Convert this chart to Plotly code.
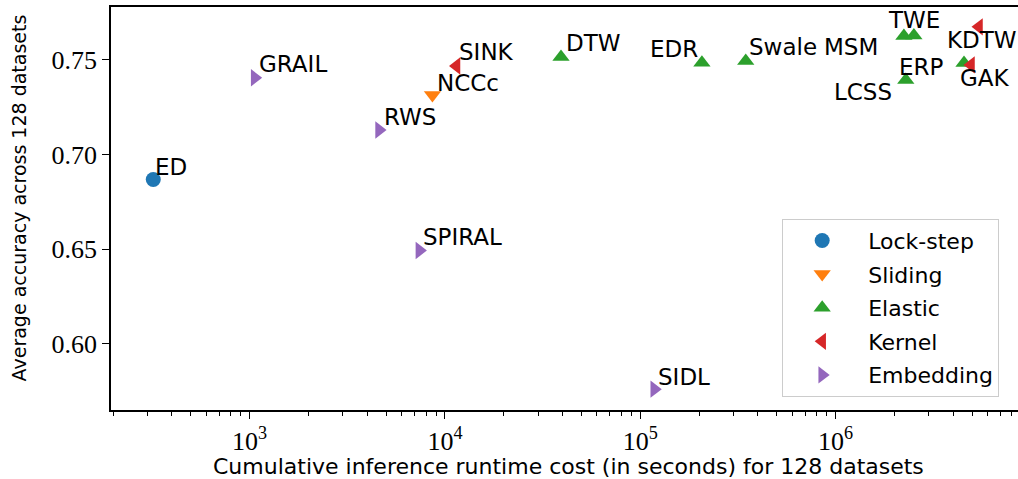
import numpy as np
import plotly.graph_objects as go

# ---- data ----
methods = ["ED", "NCCc", "DTW", "EDR", "Swale", "MSM", "TWE", "LCSS", "ERP",
           "SINK", "GAK", "KDTW", "GRAIL", "RWS", "SPIRAL", "SIDL"]
category = ["Lock-step", "Sliding", "Elastic", "Elastic", "Elastic", "Elastic", "Elastic",
            "Elastic", "Elastic", "Kernel", "Kernel", "Kernel", "Embedding", "Embedding",
            "Embedding", "Embedding"]
runtime = [321, 8630, 39300, 207000, 347000, 2240000, 2520000, 2290000, 4550000,
           11460, 4940000, 5430000, 1061, 4600, 7400, 118000]
accuracy = [0.6868, 0.7315, 0.7516, 0.7485, 0.7495, 0.7627, 0.7630, 0.7394, 0.7484,
            0.7468, 0.7474, 0.7675, 0.7406, 0.7130, 0.6493, 0.5760]

categories = ["Lock-step", "Sliding", "Elastic", "Kernel", "Embedding"]
x_tickvals = [1e3, 1e4, 1e5, 1e6]
x_ticktext = ["10<sup>3</sup>", "10<sup>4</sup>", "10<sup>5</sup>", "10<sup>6</sup>"]
x_minor = [m * 10 ** e for e in range(2, 7) for m in range(2, 10)]
y_tickvals = [0.60, 0.65, 0.70, 0.75]

x_title = "Cumulative inference runtime cost (in seconds) for 128 datasets"
y_title = "Average accuracy across 128 datasets"

# ---- style ----
colors = {"Lock-step": "#1f77b4", "Sliding": "#ff7f0e", "Elastic": "#2ca02c",
          "Kernel": "#d62728", "Embedding": "#9467bd"}
symbols = {"Lock-step": "circle", "Sliding": "triangle-down", "Elastic": "triangle-up",
           "Kernel": "triangle-left", "Embedding": "triangle-right"}
# label placement: (xanchor, xshift px, yshift px)
label_pos = {
    "ED": ("left", 0, 13), "GRAIL": ("left", 2, 14), "RWS": ("left", 3, 13),
    "NCCc": ("left", 3, 12), "SINK": ("left", 1, 14), "DTW": ("left", 3, 14),
    "EDR": ("right", -2, 14), "Swale": ("left", 1, 14), "MSM": ("right", -24, -11),
    "TWE": ("center", 0, 15), "LCSS": ("right", -12, -12), "ERP": ("right", -18, -4),
    "GAK": ("left", -13, -13), "KDTW": ("left", -34, -13), "SPIRAL": ("left", 2, 14),
    "SIDL": ("left", 2, 12),
}

SANS = "DejaVu Sans"
SERIF = "Liberation Serif"

fig = go.Figure()
for cat in categories:
    xs = [r for r, c in zip(runtime, category) if c == cat]
    ys = [a for a, c in zip(accuracy, category) if c == cat]
    fig.add_trace(go.Scatter(
        x=xs, y=ys, mode="markers", name="\u00a0" + cat, legendgroup=cat,
        marker=dict(color=colors[cat], symbol=symbols[cat], size=15, line=dict(width=0)),
    ))

for m, r, a in zip(methods, runtime, accuracy):
    anc, dx, dy = label_pos[m]
    fig.add_annotation(x=np.log10(r), y=a, text=m, showarrow=False,
                       xanchor=anc, yanchor="middle", xshift=dx, yshift=dy,
                       font=dict(family=SANS, size=23, color="black"))

# axis titles as paper annotations for exact placement
fig.add_annotation(x=0.504, y=-0.139, xref="paper", yref="paper", text=x_title,
                   showarrow=False, xanchor="center", yanchor="middle",
                   font=dict(family=SANS, size=22, color="black"))
fig.add_annotation(x=-0.101, y=0.526, xref="paper", yref="paper", text=y_title,
                   showarrow=False, xanchor="center", yanchor="middle", textangle=-90,
                   font=dict(family=SANS, size=19, color="black"))

fig.update_layout(
    width=1018, height=479,
    margin=dict(l=111, r=0, t=7, b=69, autoexpand=False),
    plot_bgcolor="white", paper_bgcolor="white",
    showlegend=True,
    legend=dict(x=0.74, y=0.033, xanchor="left", yanchor="bottom",
                bgcolor="rgba(255,255,255,0.8)", bordercolor="#cccccc", borderwidth=1,
                font=dict(family=SANS, size=22, color="black"),
                itemwidth=68, tracegroupgap=2),
)
fig.update_xaxes(
    type="log", range=[np.log10(195), np.log10(8.6e6)], automargin=False,
    tickvals=x_tickvals, ticktext=x_ticktext,
    ticks="outside", ticklen=7, tickwidth=1.3, tickcolor="black",
    minor=dict(tickvals=x_minor, ticks="outside", ticklen=4, tickwidth=1,
               tickcolor="black", showgrid=False),
    showline=True, linecolor="black", linewidth=1.5, mirror=True,
    showgrid=False, zeroline=False,
    tickfont=dict(family=SERIF, size=26, color="black"),
)
fig.update_yaxes(
    range=[0.565, 0.778], automargin=False,
    tickvals=y_tickvals, ticktext=[f"{v:.2f}" for v in y_tickvals],
    ticks="outside", ticklen=7, tickwidth=1.3, tickcolor="black",
    showline=True, linecolor="black", linewidth=1.5, mirror=True,
    showgrid=False, zeroline=False,
    tickfont=dict(family=SERIF, size=26, color="black"),
)

fig.write_html("out.html", config={"displayModeBar": False},
               post_script="document.body.style.margin='0';document.body.style.overflow='hidden';")
